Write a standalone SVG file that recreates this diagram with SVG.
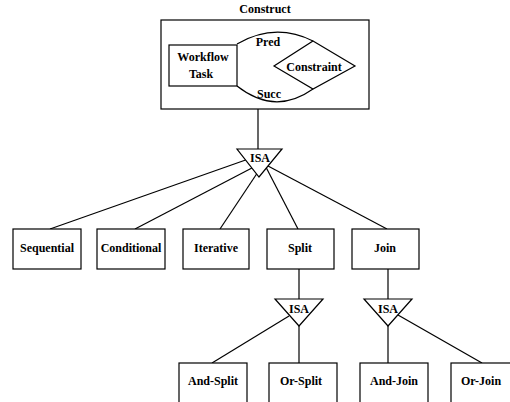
<svg xmlns="http://www.w3.org/2000/svg" width="510" height="402" viewBox="0 0 510 402">
<style>
.b{fill:#fff;stroke:#000;stroke-width:1.2}
.n{fill:none;stroke:#000;stroke-width:1.2}
.t{font-family:"Liberation Serif","Times New Roman",serif;font-weight:bold;font-size:12px;fill:#000;text-anchor:middle}
.c line,.c path{stroke:#000;stroke-width:1.2;fill:none}
</style>
<rect width="510" height="402" fill="#fff"/>
<g class="c" id="connectors">
<line x1="258" y1="109" x2="258" y2="149"/>
<line x1="245.6" y1="160" x2="50" y2="229"/>
<line x1="251.9" y1="168" x2="135" y2="229"/>
<line x1="256.6" y1="174" x2="220" y2="229"/>
<line x1="266.4" y1="168" x2="298" y2="229"/>
<line x1="268" y1="166" x2="387" y2="229"/>
<line x1="299" y1="268" x2="299" y2="299"/>
<line x1="388" y1="268" x2="388" y2="299"/>
<line x1="289" y1="316" x2="212" y2="363"/>
<line x1="299" y1="326" x2="299" y2="363"/>
<line x1="388" y1="326" x2="388" y2="363"/>
<line x1="398" y1="315" x2="482" y2="363"/>
</g>
<g id="construct">
<text class="t" x="265" y="13">Construct</text>
<rect class="b" x="161" y="20" width="208" height="89"/>
<g id="workflow-task">
<rect class="b" x="169" y="45" width="68" height="41"/>
<text class="t" x="203" y="61">Workflow</text>
<text class="t" x="201" y="78">Task</text>
</g>
<g id="pred-succ">
<path class="n" d="M237,44 Q275,22 313,41"/>
<path class="n" d="M237,86 Q275,116 313,89"/>
<text class="t" x="268" y="46">Pred</text>
<text class="t" x="269" y="98">Succ</text>
</g>
<g id="constraint">
<polygon class="b" points="313,41 355,66 313,89 274,66"/>
<text class="t" x="314" y="71">Constraint</text>
</g>
</g>
<g id="isa1">
<polygon class="b" points="237,149 282,149 259,177"/>
<text class="t" x="260" y="162">ISA</text>
</g>
<g id="sequential"><rect class="b" x="13" y="229" width="68" height="40"/><text class="t" x="47" y="252">Sequential</text></g>
<g id="conditional"><rect class="b" x="97" y="229" width="68" height="40"/><text class="t" x="131" y="252">Conditional</text></g>
<g id="iterative"><rect class="b" x="183" y="229" width="66" height="40"/><text class="t" x="216" y="252">Iterative</text></g>
<g id="split"><rect class="b" x="267" y="229" width="67" height="40"/><text class="t" x="300" y="252">Split</text></g>
<g id="join"><rect class="b" x="352" y="229" width="67" height="40"/><text class="t" x="385" y="252">Join</text></g>
<g id="isa2">
<polygon class="b" points="275,299 323,299 299,326"/>
<text class="t" x="299" y="313">ISA</text>
</g>
<g id="isa3">
<polygon class="b" points="364,299 412,299 388,326"/>
<text class="t" x="388" y="313">ISA</text>
</g>
<g id="and-split"><rect class="b" x="179" y="363" width="68" height="50"/><text class="t" x="213" y="385">And-Split</text></g>
<g id="or-split"><rect class="b" x="269" y="363" width="68" height="50"/><text class="t" x="301" y="385">Or-Split</text></g>
<g id="and-join"><rect class="b" x="360" y="363" width="68" height="50"/><text class="t" x="394" y="385">And-Join</text></g>
<g id="or-join"><rect class="b" x="451" y="363" width="68" height="50"/><text class="t" x="481" y="385">Or-Join</text></g>
</svg>
